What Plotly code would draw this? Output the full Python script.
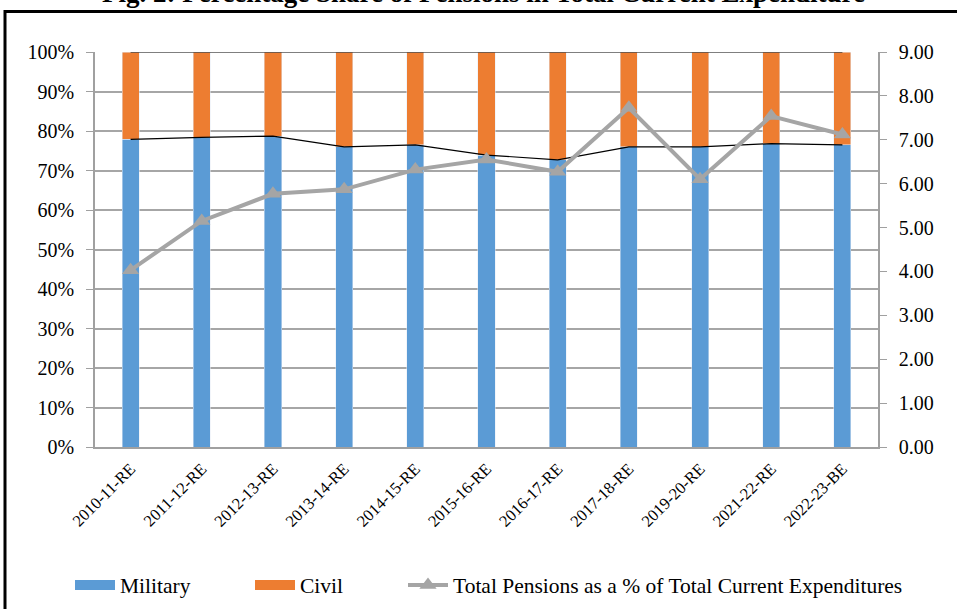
import plotly.graph_objects as go

categories = ["2010-11-RE", "2011-12-RE", "2012-13-RE", "2013-14-RE", "2014-15-RE",
              "2015-16-RE", "2016-17-RE", "2017-18-RE", "2019-20-RE", "2021-22-RE", "2022-23-BE"]
military = [77.9, 78.4, 78.7, 76.0, 76.5, 73.9, 72.7, 76.0, 76.0, 76.8, 76.5]
civil = [22.1, 21.6, 21.3, 24.0, 23.5, 26.1, 27.3, 24.0, 24.0, 23.2, 23.5]
total_pct = [4.03, 5.15, 5.77, 5.87, 6.32, 6.55, 6.27, 7.73, 6.10, 7.54, 7.12]

BLUE = "#5B9BD5"
ORANGE = "#ED7D31"
GRAY = "#A5A5A5"
FONT = "Liberation Serif"

stack_top = [m + c for m, c in zip(military, civil)]

fig = go.Figure()
fig.add_trace(go.Bar(x=categories, y=military, name="Military", marker=dict(color=BLUE),
                     showlegend=False, yaxis="y"))
fig.add_trace(go.Bar(x=categories, y=civil, name="Civil", marker=dict(color=ORANGE),
                     showlegend=False, yaxis="y"))
# series lines (Excel style) connecting stacked segment tops
fig.add_trace(go.Scatter(x=categories, y=military, mode="lines", line=dict(color="black", width=1.2),
                         showlegend=False, hoverinfo="skip", yaxis="y"))
fig.add_trace(go.Scatter(x=categories, y=stack_top, mode="lines", line=dict(color="black", width=1.2),
                         showlegend=False, hoverinfo="skip", yaxis="y"))
# legend proxies for the bars
fig.add_trace(go.Scatter(x=[None], y=[None], mode="lines", name="Military",
                         line=dict(color=BLUE, width=12), yaxis="y", legend="legend"))
fig.add_trace(go.Scatter(x=[None], y=[None], mode="lines", name="Civil",
                         line=dict(color=ORANGE, width=12), yaxis="y", legend="legend2"))
fig.add_trace(go.Scatter(x=categories, y=total_pct, mode="lines+markers",
                         name="Total Pensions as a % of Total Current Expenditures",
                         line=dict(color=GRAY, width=4),
                         marker=dict(symbol="triangle-up", size=15, color=GRAY),
                         yaxis="y2", legend="legend3"))

L, R, T, B = 95, 79, 52, 162
W, H = 957, 609
pw = W - L - R
ph = H - T - B

def px_x(p):
    return (p - L) / pw

def px_y(p):
    return (H - B - p) / ph

def leg(xpix):
    return dict(orientation="h", x=px_x(xpix), xanchor="left", y=px_y(585), yanchor="middle",
                font=dict(size=21.5, family=FONT, color="black"), itemwidth=40,
                bgcolor="rgba(0,0,0,0)")

fig.update_layout(
    width=W, height=H,
    margin=dict(l=L, r=R, t=T, b=B, autoexpand=False),
    paper_bgcolor="white", plot_bgcolor="white",
    barmode="stack", bargap=0.76,
    font=dict(family=FONT, size=20, color="black"),
    xaxis=dict(type="category", tickangle=-45, tickfont=dict(size=16.5, family=FONT),
               range=[-0.5, len(categories) - 0.5], ticklabelstandoff=4, automargin=False,
               showline=True, linecolor="#A0A0A0", linewidth=1.5,
               showgrid=False, ticks="", mirror=False),
    yaxis=dict(range=[0, 100], dtick=10, ticksuffix="%", showgrid=True, automargin=False,
               gridcolor="#A6A6A6", gridwidth=1.5, showline=True, linecolor="#A0A0A0",
               linewidth=1.5, ticks="outside", ticklen=7, tickcolor="#A0A0A0",
               tickfont=dict(size=20, family=FONT), zeroline=False, ticklabelstandoff=8),
    yaxis2=dict(range=[0, 9], dtick=1, tickformat=".2f", overlaying="y", side="right",
                showgrid=False, showline=True, linecolor="#A0A0A0", linewidth=1.5,
                ticks="outside", ticklen=7, tickcolor="#A0A0A0", automargin=False,
                tickfont=dict(size=20, family=FONT), zeroline=False, ticklabelstandoff=8),
    legend=leg(70),
    legend2=leg(250),
    legend3=leg(403),
    showlegend=True,
    annotations=[dict(text="<b>Fig. 2: Percentage Share of Pensions in Total Current Expenditure</b>",
                      xref="paper", yref="paper", x=px_x(483), y=px_y(-7),
                      xanchor="center", yanchor="middle", showarrow=False,
                      font=dict(size=27, family=FONT))],
    shapes=[dict(type="rect", xref="paper", yref="paper",
                 x0=px_x(5), x1=px_x(990), y0=px_y(660), y1=px_y(11.5),
                 line=dict(color="black", width=3), fillcolor="rgba(0,0,0,0)", layer="below")],
)

fig.write_html("out.html")
